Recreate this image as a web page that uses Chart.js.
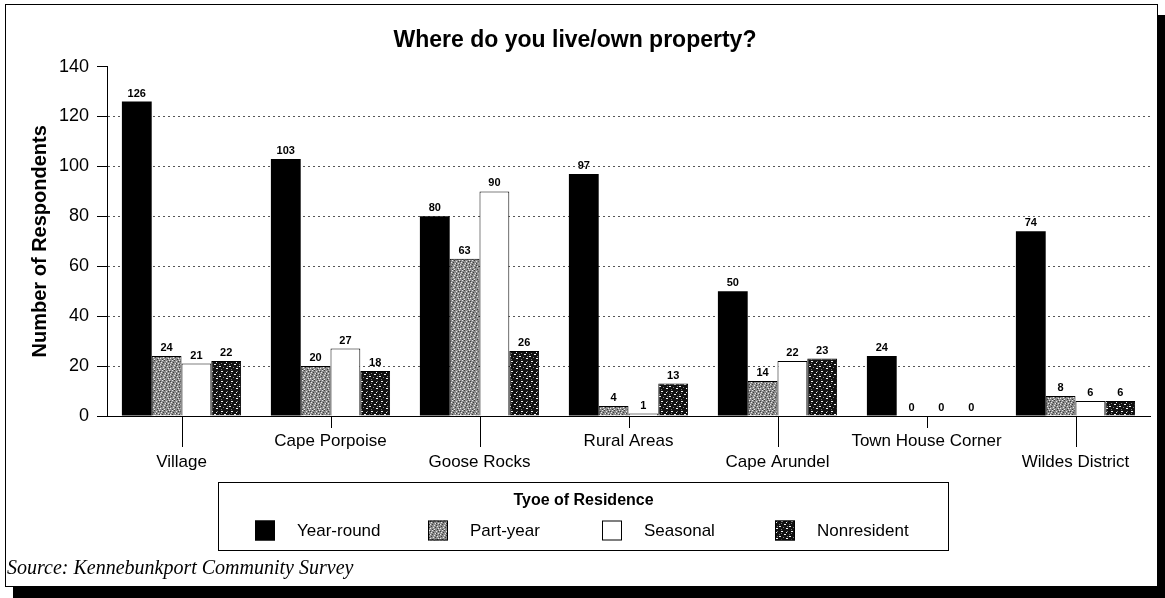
<!DOCTYPE html>
<html>
<head>
<meta charset="utf-8">
<script src="https://cdn.jsdelivr.net/npm/chart.js@4.4.0/dist/chart.umd.min.js"></script>
<style>
  html, body { margin: 0; padding: 0; background: #fff; }
  #frame { position: absolute; left: 5px; top: 4px; width: 1151px; height: 581px; border: 1px solid #000; box-shadow: 8px 11px 0 #000; }
  #myChart { position: absolute; left: 0; top: 0; }
</style>
</head>
<body>
<div id="frame"></div>
<canvas id="myChart" width="1165" height="598"></canvas>
<script>
// data
const categories = ["Village", "Cape Porpoise", "Goose Rocks", "Rural Areas", "Cape Arundel", "Town House Corner", "Wildes District"];
const seriesNames = ["Year-round", "Part-year", "Seasonal", "Nonresident"];
const yearRound = [126, 103, 80, 97, 50, 24, 74];
const partYear = [24, 20, 63, 4, 14, 0, 8];
const seasonal = [21, 27, 90, 1, 22, 0, 6];
const nonresident = [22, 18, 26, 13, 23, 0, 6];
const yTicks = [0, 20, 40, 60, 80, 100, 120, 140];

const chartTitle = "Where do you live/own property?";
const yTitle = "Number of Respondents";
const legendTitle = "Tyoe of Residence";
const sourceNote = "Source: Kennebunkport Community Survey";

Chart.defaults.font.family = "'Liberation Sans', Arial, sans-serif";
Chart.defaults.color = "#000";

// speckled fills like the old printout
function makePattern(rows, colors) {
  const c = document.createElement("canvas");
  c.width = rows[0].length;
  c.height = rows.length;
  const cx = c.getContext("2d");
  rows.forEach((row, y) => {
    for (let x = 0; x < row.length; x++) {
      cx.fillStyle = colors[row[x]];
      cx.fillRect(x, y, 1, 1);
    }
  });
  return cx.createPattern(c, "repeat");
}

const partFill = makePattern([
  "ggwgkggggw",
  "kgggggwgkg",
  "gwgkgggggg",
  "gggggwkgwg",
  "wgkggggggk",
  "ggggwgkggg",
  "gkgggggwgg",
  "gggwgkgggk",
  "wgggggggwg",
  "ggkgwggkgg"
], { w: "#e8e8e8", g: "#8c8c8c", k: "#3c3c3c" });

const nonresFill = makePattern([
  "kkkkkkkkkk",
  "kwwkkkkgkk",
  "kkkkkkwkkk",
  "kgkkkkkkkk",
  "kkkkwwkkkg",
  "kkkkkkkkkk",
  "wkkkkkkgkw",
  "kkkgkkkkkk",
  "kkkkkkwwkk",
  "kgkkkkkkkk"
], { w: "#f0f0f0", g: "#777777", k: "#111111" });

const fills = ["#000000", partFill, "#ffffff", nonresFill];
const seriesValues = [yearRound, partYear, seasonal, nonresident];

// value labels over each bar
const valueLabels = {
  id: "valueLabels",
  afterDatasetsDraw(chart) {
    const ctx = chart.ctx;
    ctx.save();
    ctx.font = "bold 11px 'Liberation Sans', Arial, sans-serif";
    ctx.fillStyle = "#000";
    ctx.textAlign = "center";
    ctx.textBaseline = "middle";
    chart.data.datasets.forEach((ds, i) => {
      chart.getDatasetMeta(i).data.forEach((bar, j) => {
        ctx.fillText(ds.data[j], bar.x, bar.y - 8);
      });
    });
    ctx.restore();
  }
};

// staggered category ticks: long for lower row, short for upper row
const staggerTicks = {
  id: "staggerTicks",
  afterDraw(chart) {
    const sc = chart.scales.x;
    const ctx = chart.ctx;
    ctx.save();
    ctx.strokeStyle = "#000";
    ctx.lineWidth = 1;
    categories.forEach((c, i) => {
      const x = Math.round(sc.getPixelForTick(i)) + 0.5;
      ctx.beginPath();
      ctx.moveTo(x, sc.top);
      ctx.lineTo(x, sc.top + (i % 2 ? 12 : 31));
      ctx.stroke();
    });
    ctx.restore();
  }
};

// boxed legend and the source note
const boxLegend = {
  id: "boxLegend",
  afterDraw(chart) {
    const ctx = chart.ctx;
    const lw = 730, lh = 68;
    const lx = Math.round(chart.width / 2 - lw / 2) + 0.5, ly = 482.5;
    ctx.save();
    ctx.strokeStyle = "#000";
    ctx.lineWidth = 1;
    ctx.strokeRect(lx, ly, lw, lh);
    ctx.fillStyle = "#000";
    ctx.textAlign = "center";
    ctx.textBaseline = "middle";
    ctx.font = "bold 16px 'Liberation Sans', Arial, sans-serif";
    ctx.fillText(legendTitle, lx + lw / 2, ly + 18);
    ctx.font = "17px 'Liberation Sans', Arial, sans-serif";
    ctx.textAlign = "left";
    chart.data.datasets.forEach((ds, i) => {
      const sx = Math.round(lx + 36 + i * 173.5);
      const sy = ly + 38;
      ctx.fillStyle = ds.backgroundColor;
      ctx.fillRect(sx, sy, 20, 20);
      ctx.strokeRect(sx + 0.5, sy + 0.5, 19, 19);
      ctx.fillStyle = "#000";
      ctx.fillText(ds.label, sx + 42, sy + 11);
    });
    ctx.font = "italic 20px 'Liberation Serif', 'DejaVu Serif', serif";
    ctx.fillText(sourceNote, 7, 569);
    ctx.restore();
  }
};

new Chart("myChart", {
  type: "bar",
  data: {
    labels: categories,
    datasets: seriesNames.map((name, i) => ({
      label: name,
      data: seriesValues[i],
      backgroundColor: fills[i],
      borderColor: "#000",
      borderWidth: i === 0 ? 0 : 1,
      borderSkipped: "bottom",
      categoryPercentage: 0.8,
      barPercentage: 1.0
    }))
  },
  options: {
    responsive: false,
    animation: false,
    layout: { padding: { left: 0, right: 15, top: 0, bottom: 122 } },
    plugins: {
      legend: { display: false },
      tooltip: { enabled: false },
      title: {
        display: true,
        text: chartTitle,
        color: "#000",
        font: { size: 23, weight: "bold" },
        padding: { top: 27, bottom: 12 }
      }
    },
    scales: {
      x: {
        grid: { display: false, drawTicks: false },
        border: { color: "#000", width: 1 },
        ticks: {
          autoSkip: false,
          maxRotation: 0,
          color: "#000",
          padding: 15,
          font: { size: 17, lineHeight: "21px" },
          callback: function (value, index) {
            const name = this.getLabelForValue(value);
            return index % 2 ? [name] : ["", name];
          }
        },
        afterFit: (scale) => { scale.height = 60; }
      },
      y: {
        min: 0,
        max: 140,
        afterBuildTicks: (scale) => { scale.ticks = yTicks.map(v => ({ value: v })); },
        grid: {
          color: (ctx) => (ctx.tick && ctx.tick.value === 140 ? "rgba(0,0,0,0)" : "#555"),
          tickColor: "#000",
          tickLength: 10,
          lineWidth: 1
        },
        border: { color: "#000", width: 1, dash: [2, 3] },
        ticks: { color: "#000", padding: 8, font: { size: 18 } },
        title: {
          display: true,
          text: yTitle,
          color: "#000",
          font: { size: 20, weight: "bold" },
          padding: { top: 28, bottom: 0 }
        },
        afterFit: (scale) => { scale.width = 107; }
      }
    }
  },
  plugins: [valueLabels, staggerTicks, boxLegend]
});
</script>
</body>
</html>
